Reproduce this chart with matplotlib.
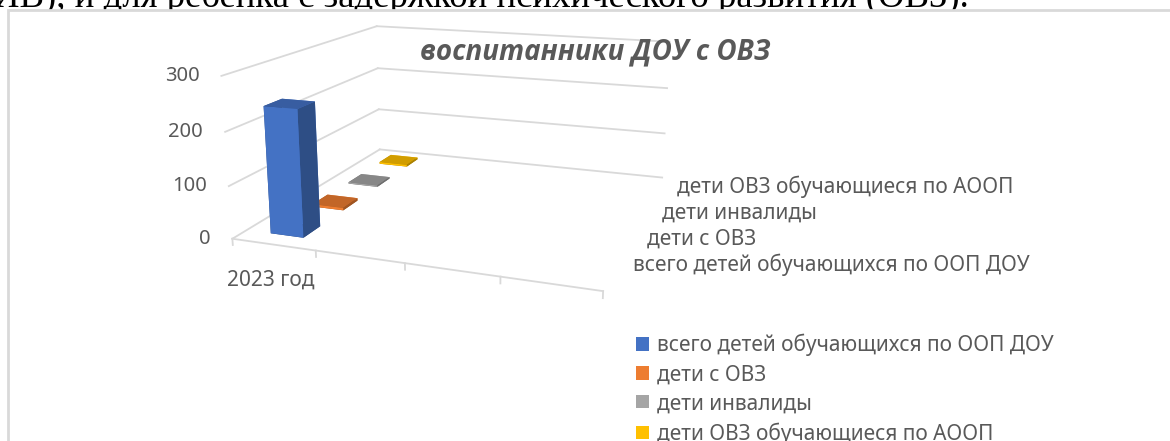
import numpy as np
import matplotlib
matplotlib.use("Agg")
import matplotlib.pyplot as plt
from matplotlib.patches import Patch, Rectangle
from matplotlib.colors import to_rgb
from mpl_toolkits.mplot3d import proj3d

plt.rcParams['font.family'] = ['Noto Sans', 'DejaVu Sans']

# ---------------- data ----------------
categories = ["2023 год", "", "", ""]
series_names = ["всего детей обучающихся по ООП ДОУ", "дети с ОВЗ",
                "дети инвалиды", "дети ОВЗ обучающиеся по АООП"]
series_values = [240, 5, 3, 4]          # values for "2023 год"
series_colors = ["#4472C4", "#ED7D31", "#A5A5A5", "#FFC000"]
z_ticks = [0, 100, 200, 300]
title = "воспитанники ДОУ с ОВЗ"
doc_text = "ИВ), и для ребенка с задержкой психического развития (ОВЗ)."

TXT = "#595959"
GRID = "#D9D9D9"
W, H = 1170, 441

fig = plt.figure(figsize=(W / 100, H / 100), dpi=100)

# document text, partly hidden behind the chart area
fig.text(-0.006, 1 - 7 / H, doc_text, fontsize=26.5, family='Liberation Serif',
         color='black', va='baseline', ha='left', zorder=-2)

# chart-area frame (white, covers the document text below its top edge)
fig.patches.append(Rectangle((8 / W, -0.1), 1.2, (H - 10) / H + 0.1,
                             transform=fig.transFigure, facecolor='white',
                             edgecolor=GRID, lw=2, zorder=-1))

ax = fig.add_axes([0.1, 0.05, 0.5, 0.5 * W / H], projection='3d',
                  computed_zorder=False)
ax.set_axis_off()
ax.set_facecolor('none')
nx = len(categories)
ns = len(series_names)
zmax = z_ticks[-1]
ax.set_xlim(0, nx)
ax.set_ylim(0, ns)
ax.set_zlim(0, zmax)

# ---- fit the camera so the floor/wall corners land like the reference ----
corner3d = np.array([[0, 0, 0], [nx, 0, 0], [0, ns, 0], [nx, ns, 0],
                     [0, 0, zmax], [0, ns, zmax], [nx, ns, zmax],
                     [0, ns, 200], [nx, ns, 200]], float)
corner_px = np.array([[232, 238], [603, 292], [380, 150], [663, 177],
                      [222, 76], [377, 27], [667, 41],
                      [377, 68], [669, 88]], float)
target = np.column_stack([corner_px[:, 0], H - corner_px[:, 1]])


def set_view(p):
    e, a, f, by, bz = p
    ax.view_init(elev=e, azim=a)
    ax.set_proj_type('persp', focal_length=f)
    ax.set_box_aspect((1, by, bz))


def display_pts(p):
    set_view(p)
    M = ax.get_proj()
    xs, ys, _ = proj3d.proj_transform(corner3d[:, 0], corner3d[:, 1],
                                      corner3d[:, 2], M)
    return ax.transData.transform(np.column_stack([xs, ys]))


def fit(D, T):
    Dm, Tm = D.mean(0), T.mean(0)
    s = ((D - Dm) * (T - Tm)).sum() / ((D - Dm) ** 2).sum()
    t = Tm - s * Dm
    return s, t, ((s * D + t - T) ** 2).sum()


fig.canvas.draw()
p = np.array([15.0, -65.0, 0.5, 0.8, 0.45])
steps = np.array([3.0, 3.0, 0.15, 0.1, 0.06])
lo = np.array([1, -89, 0.08, 0.2, 0.1])
hi = np.array([45, -20, 5.0, 3.0, 2.0])
best = fit(display_pts(p), target)[2]
for _ in range(60):
    improved = False
    for k in range(5):
        for sgn in (1, -1):
            q = p.copy()
            q[k] = np.clip(q[k] + sgn * steps[k], lo[k], hi[k])
            err = fit(display_pts(q), target)[2]
            if err < best:
                best, p, improved = err, q, True
    if not improved:
        steps *= 0.5
        if steps.max() < 1e-3:
            break

set_view(p)
D = display_pts(p)
s, t, _ = fit(D, target)
bb = ax.bbox.bounds
x0, y0, w0 = s * bb[0] + t[0], s * bb[1] + t[1], s * bb[2]
ax.set_position([x0 / W, y0 / H, w0 / W, w0 / H])


def to_px(x, y, z):
    M = ax.get_proj()
    xs, ys, _ = proj3d.proj_transform(np.array([x], float), np.array([y], float),
                                      np.array([z], float), M)
    return np.array(ax.transData.transform((xs[0], ys[0])))


# wall gridlines
for z in z_ticks:
    ax.plot([0, 0], [0, ns], [z, z], color=GRID, lw=1.3, zorder=1)
    ax.plot([0, nx], [ns, ns], [z, z], color=GRID, lw=1.3, zorder=1)
# x axis line + ticks
ax.plot([0, nx], [0, 0], [0, 0], color=GRID, lw=1.3, zorder=1)
for i in range(nx + 1):
    ax.plot([i, i], [0, 0], [0, -12], color=GRID, lw=1.3, zorder=1)


def shade(c, k):
    r = np.array(to_rgb(c))
    return tuple(np.clip(r * k, 0, 1))


# bars (faces: bottom, top, front, back, left, right)
w = 0.4
for j in range(ns - 1, -1, -1):
    c = series_colors[j]
    face_cols = [shade(c, 0.6), shade(c, 0.82), c, c, shade(c, 0.7),
                 shade(c, 0.68)]
    ax.bar3d(0.5 - w / 2, j + 0.5 - w / 2, 0, w, w, series_values[j],
             color=face_cols, shade=False, zorder=5 + (ns - j))

# z tick labels
for z in z_ticks:
    px, py = to_px(0, 0, z)
    fig.text((px - 22) / W, py / H, str(z), ha='right', va='center',
             color=TXT, fontsize=14.5)
# category labels
for i, c in enumerate(categories):
    if c:
        px, py = to_px(i + 0.5, 0, 0)
        fig.text((px - 3) / W, (py - 36) / H, c, ha='center', va='center',
                 color=TXT, fontsize=15)
# series labels (depth axis), evenly spaced along the right floor edge
front = to_px(nx, 0.5, 0) + np.array([20, 7])
back = to_px(nx, ns - 0.5, 0) + np.array([20, 1])
for j, sname in enumerate(series_names):
    px, py = front + (back - front) * j / (ns - 1)
    fig.text(px / W, py / H, sname, ha='left', va='center',
             color=TXT, fontsize=15)

fig.text(595 / W, 1 - 52 / H, title, ha='center', va='center',
         fontsize=20, family='Open Sans', fontweight='bold',
         fontstyle='italic', color=TXT)

handles = [Patch(facecolor=c, edgecolor='none') for c in series_colors]
fig.legend(handles, series_names, loc='upper left',
           bbox_to_anchor=(636 / W, 1 - 334 / H), frameon=False,
           fontsize=15, labelcolor=TXT, handlelength=0.6, handleheight=0.6,
           handletextpad=0.4, labelspacing=0.38, borderaxespad=0,
           borderpad=0)

fig.savefig("out.png", dpi=100)
